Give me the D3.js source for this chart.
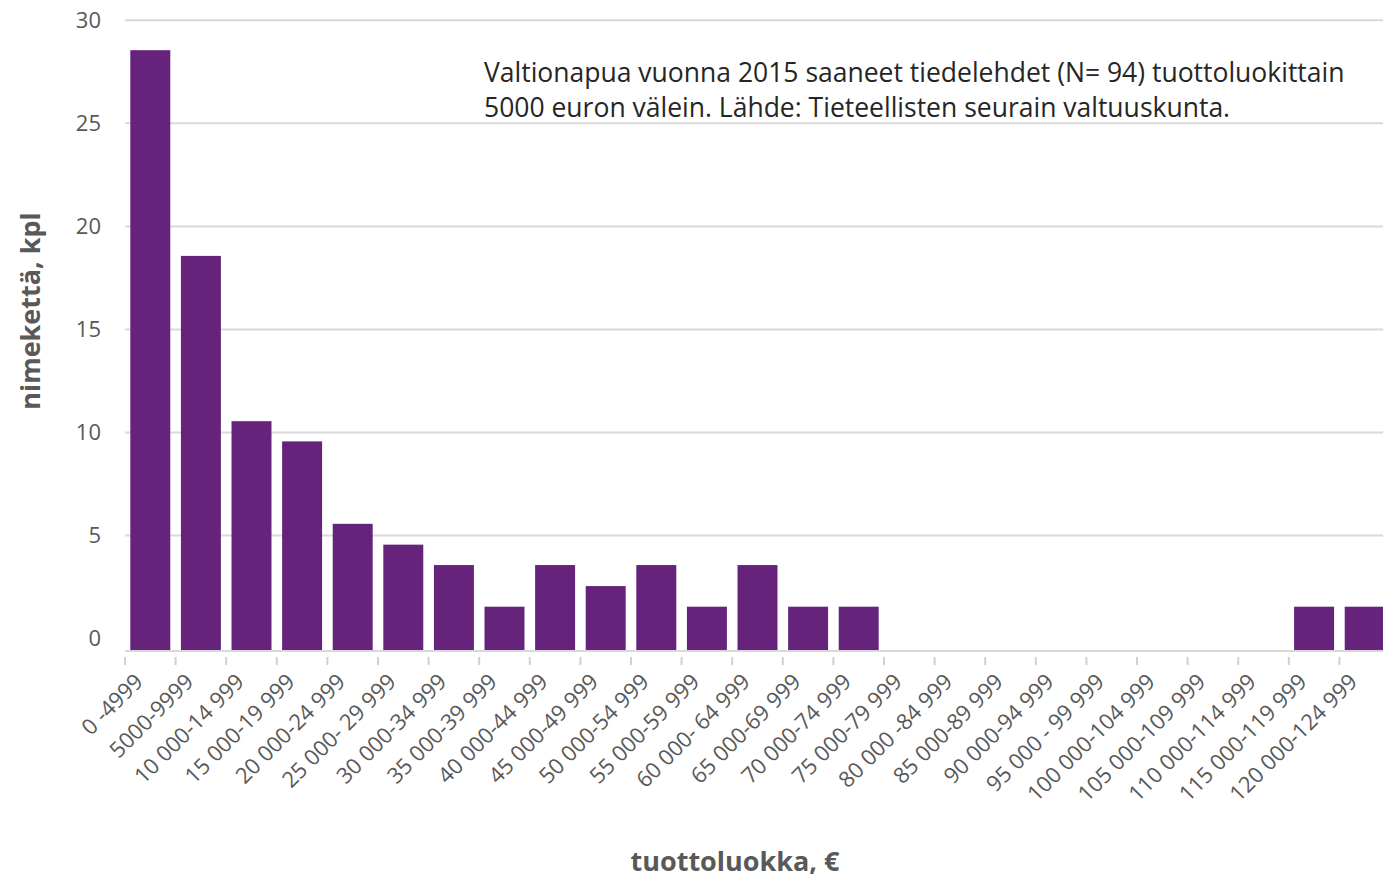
<!DOCTYPE html>
<html>
<head>
<meta charset="utf-8">
<script src="https://cdn.jsdelivr.net/npm/d3@7"></script>
<style>
  body { margin: 0; background: #fff; }
  svg { display: block; font-family: 'Open Sans', Lato, sans-serif; }
</style>
</head>
<body>
<svg id="chart" width="1383" height="878"></svg>
<script>
// tuottoluokat (5000 euron välein)
const categories = [
  '0 -4999', '5000-9999', '10 000-14 999', '15 000-19 999', '20 000-24 999',
  '25 000- 29 999', '30 000-34 999', '35 000-39 999', '40 000-44 999', '45 000-49 999',
  '50 000-54 999', '55 000-59 999', '60 000- 64 999', '65 000-69 999', '70 000-74 999',
  '75 000-79 999', '80 000 -84 999', '85 000-89 999', '90 000-94 999', '95 000 - 99 999',
  '100 000-104 999', '105 000-109 999', '110 000-114 999', '115 000-119 999', '120 000-124 999'
]
// nimekkeiden määrä, luettu kuvasta
const values = [
  28.55, 18.57, 10.55, 9.57, 5.57,
  4.56, 3.57, 1.55, 3.57, 2.55,
  3.57, 1.55, 3.57, 1.55, 1.55,
  0, 0, 0, 0, 0,
  0, 0, 0, 1.55, 1.55
]
const yTicks = [0, 5, 10, 15, 20, 25, 30]
const titleLines = [
  'Valtionapua vuonna 2015 saaneet tiedelehdet (N= 94) tuottoluokittain',
  '5000 euron välein. Lähde: Tieteellisten seurain valtuuskunta.'
]

const svg = d3.select('#chart')
const plotLeft = 125
const plotRight = 1390
const plotTop = 20.3
const base = 651
const grey = '#595959'

const x = d3.scaleBand()
            .domain(categories)
            .range([plotLeft, plotRight])
            .paddingInner(0.21)
            .paddingOuter(0.105)
const y = d3.scaleLinear()
            .domain([-0.6, 30])
            .range([base, plotTop])

// vaakaviivat (0-viivaa ei piirretä, akseli on sen alla)
svg.append('g')
   .selectAll('line')
   .data(yTicks.filter(d => d > 0))
   .join('line')
   .attr('x1', plotLeft)
   .attr('x2', 1383)
   .attr('y1', d => y(d))
   .attr('y2', d => y(d))
   .attr('stroke', '#d9d9d9')
   .attr('stroke-width', 2)

// y-akselin numerot
const yAxis = d3.axisLeft(y).tickValues(yTicks).tickSize(0).tickPadding(0)
svg.append('g')
   .attr('transform', 'translate(101,0)')
   .call(yAxis)
   .call(g => g.select('.domain').remove())
   .selectAll('text')
   .attr('font-family', "'Open Sans', sans-serif")
   .attr('font-size', 22)
   .attr('fill', grey)

// pylväät
svg.append('g')
   .selectAll('rect')
   .data(values)
   .join('rect')
   .attr('x', (d, i) => x(categories[i]))
   .attr('width', x.bandwidth())
   .attr('y', d => y(d))
   .attr('height', d => d > 0 ? base - y(d) : 0)
   .attr('fill', '#65237c')

// x-akselin viiva
svg.append('line')
   .attr('x1', plotLeft)
   .attr('x2', 1383)
   .attr('y1', base)
   .attr('y2', base)
   .attr('stroke', '#d9d9d9')
   .attr('stroke-width', 2)

// jakoviivat luokkien välissä
const edges = d3.range(categories.length + 1).map(i => plotLeft + i * x.step())
svg.append('g')
   .selectAll('line')
   .data(edges)
   .join('line')
   .attr('x1', d => d)
   .attr('x2', d => d)
   .attr('y1', 657)
   .attr('y2', 665)
   .attr('stroke', '#d0d0d0')
   .attr('stroke-width', 2)

// luokkien nimet vinossa
svg.append('g')
   .selectAll('text')
   .data(categories)
   .join('text')
   .attr('transform', d => `translate(${x(d) + x.bandwidth() / 2 - 6},${683}) rotate(-45)`)
   .attr('text-anchor', 'end')
   .attr('font-size', 22)
   .attr('fill', grey)
   .text(d => d)

// otsikko kaaviossa
svg.append('text')
   .attr('x', 484)
   .attr('y', 82)
   .attr('font-size', 26.5)
   .attr('fill', '#262626')
   .selectAll('tspan')
   .data(titleLines)
   .join('tspan')
   .attr('x', 484)
   .attr('dy', (d, i) => i === 0 ? 0 : 35)
   .text(d => d)

// akselien otsikot
svg.append('text')
   .attr('transform', 'translate(40,311) rotate(-90)')
   .attr('text-anchor', 'middle')
   .attr('font-size', 27)
   .attr('font-weight', 'bold')
   .attr('fill', grey)
   .text('nimekettä, kpl')

svg.append('text')
   .attr('x', 735)
   .attr('y', 871)
   .attr('text-anchor', 'middle')
   .attr('font-size', 27)
   .attr('font-weight', 'bold')
   .attr('fill', grey)
   .text('tuottoluokka, €')
</script>
</body>
</html>
